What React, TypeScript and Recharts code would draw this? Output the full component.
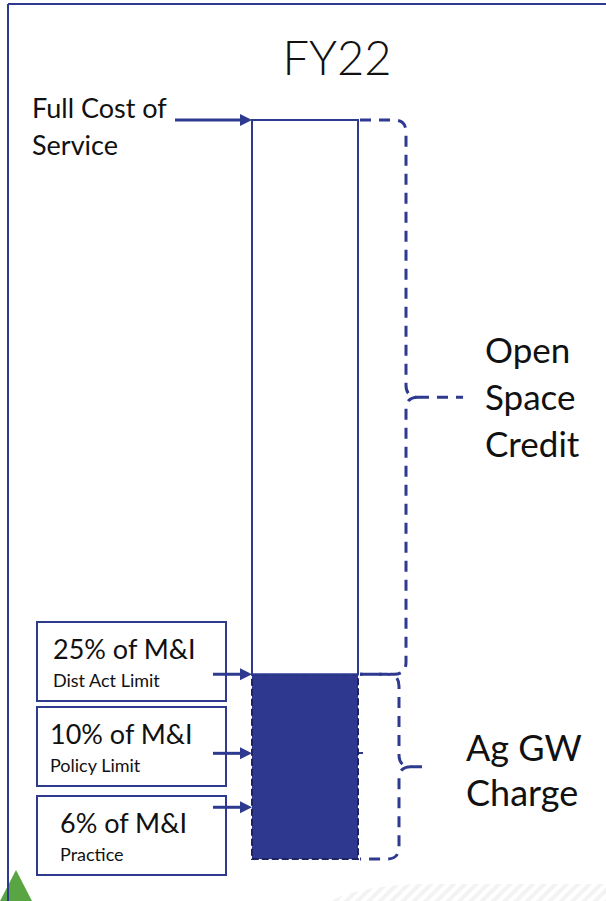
import { Bar, BarChart, Customized, ReferenceDot, XAxis, YAxis } from 'recharts'

// FY22 cost breakdown, in % of full cost of service
const categories = ['FY22']
const agGwCharge = [25]
const openSpaceCredit = [75]

// M&I reference marks pointing at the Ag GW bar
const markerLevels = [25, 14.3, 7]
const markerTitles = ['25% of M&I', '10% of M&I', '6% of M&I']
const markerNotes = ['Dist Act Limit', 'Policy Limit', 'Practice']

const data = categories.map((name, i) => ({
  name,
  ag: agGwCharge[i],
  open: openSpaceCredit[i],
}))

const NAVY = '#2e3a8f'
const FONT = 'Lato, "Open Sans", sans-serif'
const BAR_W = 106
const W = 606
const H = 901

// label box layout (left column)
const boxes = [
  { top: 622, titleX: 53, noteX: 53 },
  { top: 707, titleX: 50, noteX: 50 },
  { top: 796, titleX: 60, noteX: 60 },
]

function bracePath(x0: number, yTop: number, yBot: number, xb: number, tip: number, r = 12) {
  const ym = (yTop + yBot) / 2
  return [
    `M${x0},${yTop} L${xb - r},${yTop} Q${xb},${yTop} ${xb},${yTop + r}`,
    `L${xb},${ym - r} Q${xb},${ym} ${xb + r},${ym}`,
    `M${xb + r},${ym} Q${xb},${ym} ${xb},${ym + r}`,
    `L${xb},${yBot - r} Q${xb},${yBot} ${xb - r},${yBot} L${x0},${yBot}`,
    `M${xb + r},${ym} L${tip},${ym}`,
  ].join(' ')
}

function Arrow({ x1, x2, y }: { x1: number; x2: number; y: number }) {
  return (
    <g>
      <line x1={x1} y1={y} x2={x2 - 10} y2={y} stroke={NAVY} strokeWidth={3} />
      <polygon points={`${x2},${y} ${x2 - 12},${y - 6} ${x2 - 12},${y + 6}`} fill={NAVY} />
    </g>
  )
}

function OpenShape(props: any) {
  const { x, y, width, height } = props
  const right = x + width
  const ym = y + height / 2
  return (
    <g>
      <rect x={x} y={y} width={width} height={height} fill="#fff" stroke={NAVY} strokeWidth={2} />
      <path
        d={bracePath(right + 2, y, y + height, right + 48, right + 105)}
        fill="none"
        stroke={NAVY}
        strokeWidth={3}
        strokeDasharray="11 8"
      />
      <text x={right + 127} fontFamily={FONT} fontSize={35} fill="#111">
        <tspan x={right + 127} y={ym - 34}>Open</tspan>
        <tspan x={right + 127} y={ym + 13}>Space</tspan>
        <tspan x={right + 127} y={ym + 60}>Credit</tspan>
      </text>
      {/* full cost pointer */}
      <Arrow x1={175} x2={x} y={y} />
      <text fontFamily={FONT} fontSize={27} fill="#111">
        <tspan x={32} y={y - 2}>Full Cost of</tspan>
        <tspan x={32} y={y + 35}>Service</tspan>
      </text>
    </g>
  )
}

function AgShape(props: any) {
  const { x, y, width, height } = props
  const right = x + width
  const ym = y + height / 2
  return (
    <g>
      <rect
        x={x}
        y={y}
        width={width}
        height={height}
        fill="#2e388f"
        stroke="#1d2260"
        strokeWidth={2}
        strokeDasharray="7 3"
      />
      <path
        d={bracePath(right + 2, y, y + height, right + 41, right + 72)}
        fill="none"
        stroke={NAVY}
        strokeWidth={3}
        strokeDasharray="11 8"
      />
      <text fontFamily={FONT} fontSize={36} fill="#111">
        <tspan x={right + 108} y={ym - 6}>Ag GW</tspan>
        <tspan x={right + 108} y={ym + 39}>Charge</tspan>
      </text>
    </g>
  )
}

function MarkerArrow(props: any) {
  const { cx, cy } = props
  const left = cx - BAR_W / 2
  return <Arrow x1={left - 39} x2={left} y={cy} />
}

function Decor() {
  return (
    <g>
      <defs>
        <pattern id="stripes" width="8" height="8" patternUnits="userSpaceOnUse" patternTransform="rotate(45)">
          <rect width="4" height="8" fill="#f3f3f3" />
        </pattern>
      </defs>
      <path d={`M330,901 Q360,886 420,884 L${W},884 L${W},${H} Z`} fill="url(#stripes)" />
      <polygon points="0,901 16,870 32,901" fill="#5aa543" />
      <line x1={8} y1={4} x2={W} y2={4} stroke={NAVY} strokeWidth={2} />
      <line x1={8} y1={4} x2={8} y2={H} stroke={NAVY} strokeWidth={2} />
      <text x={337} y={75} textAnchor="middle" fontFamily={FONT} fontWeight={300} fontSize={47} fill="#111">
        FY22
      </text>
      <line x1={358} y1={753} x2={363} y2={753} stroke={NAVY} strokeWidth={2} />
      {boxes.map((b, i) => (
        <g key={i}>
          <rect x={37} y={b.top} width={189} height={79} fill="#fff" stroke={NAVY} strokeWidth={2} />
          <text x={b.titleX} y={b.top + 37} fontFamily={FONT} fontSize={27} fill="#111">
            {markerTitles[i]}
          </text>
          <text x={b.noteX} y={b.top + 65} fontFamily={FONT} fontSize={18} fill="#111">
            {markerNotes[i]}
          </text>
        </g>
      ))}
    </g>
  )
}

export default function App() {
  return (
    <div style={{ position: 'absolute', left: 0, top: 0, width: W, height: H, background: '#fff' }}>
      <BarChart
        width={W}
        height={H}
        data={data}
        margin={{ top: 120, right: 0, left: 4, bottom: 42 }}
        barSize={BAR_W}
      >
        <Customized component={Decor} />
        <XAxis dataKey="name" hide />
        <YAxis hide domain={[0, 100]} />
        <Bar dataKey="ag" stackId="a" shape={AgShape} isAnimationActive={false} />
        <Bar dataKey="open" stackId="a" shape={OpenShape} isAnimationActive={false} />
        {markerLevels.map((lvl, i) => (
          <ReferenceDot key={i} x="FY22" y={lvl} r={0} shape={MarkerArrow} ifOverflow="visible" />
        ))}
      </BarChart>
    </div>
  )
}
